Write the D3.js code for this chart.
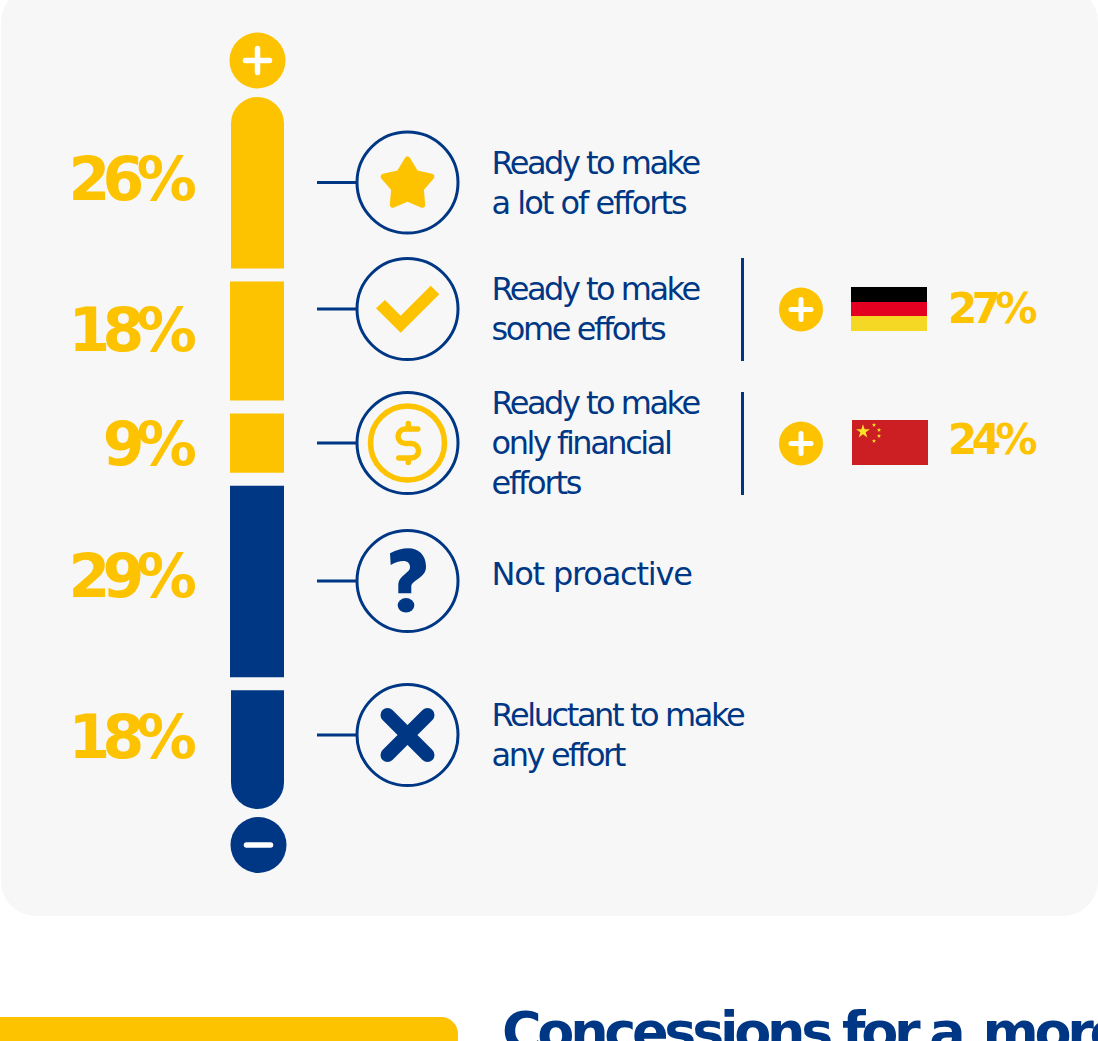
<!DOCTYPE html>
<html>
<head>
<meta charset="utf-8">
<script src="https://cdn.jsdelivr.net/npm/d3@7"></script>
<style>
  html, body { margin: 0; padding: 0; background: #fff; overflow: hidden; }
  svg { display: block; font-family: "DejaVu Sans", sans-serif; }
</style>
</head>
<body>
<svg id="chart" width="1098" height="1041"></svg>
<script>
// Survey shares, top of the gauge to the bottom
const categories = ["lot", "some", "financial", "passive", "reluctant"];
const shares = [26, 18, 9, 29, 18];
const shareLabels = ["26%", "18%", "9%", "29%", "18%"];
const captions = [
  ["Ready to make", "a lot of efforts"],
  ["Ready to make", "some efforts"],
  ["Ready to make", "only financial", "efforts"],
  ["Not proactive"],
  ["Reluctant to make", "any effort"]
];
const countries = ["Germany", "China"];
const countryShares = [27, 24];

const GOLD = "#fdc300", NAVY = "#003785", PANEL = "#f7f7f7";

const svg = d3.select("#chart");

// Background panel and the start of the next section
svg.append("rect").attr("x", 1).attr("y", -13).attr("width", 1097).attr("height", 929).attr("rx", 35).attr("fill", PANEL);
svg.append("rect").attr("x", -40).attr("y", 1017).attr("width", 498).attr("height", 80).attr("rx", 17).attr("fill", GOLD);
const heading = svg.append("text").attr("x", 502).attr("y", 1050).attr("font-size", 54).attr("font-weight", 700)
  .attr("letter-spacing", -4.3).attr("word-spacing", -1.5).attr("fill", NAVY);
heading.append("tspan").text("Concessions for a ");
heading.append("tspan").attr("dx", 8).text("more");

// Gauge: each segment is as tall as its share, with a fixed gap between segments
const GAP = 13, TOP = 97;
const height = d3.scaleLinear().domain([0, 100]).range([0, 660]);
let offset = TOP;
const segments = shares.map((v, i) => {
  const s = { i, v, y0: offset, y1: offset + height(v) };
  offset = s.y1 + GAP;
  return s;
});
const xR = 284;
const segmentPath = s => {
  const first = s.i === 0, last = s.i === shares.length - 1;
  const xL = first || last ? 231 : 230;
  const rad = (xR - xL) / 2;
  const p = d3.path();
  if (first) {
    p.moveTo(xL, s.y1);
    p.lineTo(xL, s.y0 + rad);
    p.arc((xL + xR) / 2, s.y0 + rad, rad, Math.PI, 2 * Math.PI);
    p.lineTo(xR, s.y1);
  } else if (last) {
    p.moveTo(xL, s.y0);
    p.lineTo(xL, s.y1 - rad);
    p.arc((xL + xR) / 2, s.y1 - rad, rad, Math.PI, 0, true);
    p.lineTo(xR, s.y0);
  } else {
    p.rect(xL, s.y0, xR - xL, s.y1 - s.y0);
  }
  p.closePath();
  return p.toString();
};
svg.append("g").selectAll("path").data(segments).join("path")
  .attr("d", segmentPath)
  .attr("fill", d => d.i < 3 ? GOLD : NAVY);

// Percentages to the left of the gauge
const labelBaselines = [200, 351, 465, 597, 758];
svg.append("g").selectAll("text").data(shareLabels).join("text")
  .attr("x", 189.5).attr("y", (d, i) => labelBaselines[i])
  .attr("text-anchor", "end").attr("font-size", 60).attr("font-weight", 700)
  .attr("letter-spacing", -7.5).attr("fill", GOLD).text(d => d);

// Plus and minus badges
function badge(cx, cy, r, fill, arm, width, vertical) {
  const g = svg.append("g").attr("transform", `translate(${cx},${cy})`);
  g.append("circle").attr("r", r).attr("fill", fill);
  const stroke = (x1, y1, x2, y2) => g.append("line").attr("x1", x1).attr("y1", y1).attr("x2", x2).attr("y2", y2)
    .attr("stroke", "#fff").attr("stroke-width", width).attr("stroke-linecap", "round");
  stroke(-arm, 0, arm, 0);
  if (vertical) stroke(0, -arm, 0, arm);
}
badge(257.5, 60.5, 28, GOLD, 12, 5.5, true);
badge(258.5, 845, 28, NAVY, 12, 5.5, false);

// Icon row: connector, ring, glyph and caption
const rowY = [182.5, 309, 443, 581, 735];
const captionFirstBaseline = [174, 300, 414, 585, 726];
const rows = svg.append("g").selectAll("g").data(categories).join("g")
  .attr("transform", (d, i) => `translate(407.5,${rowY[i]})`);
rows.append("line").attr("x1", -90.5).attr("x2", -50).attr("stroke", NAVY).attr("stroke-width", 3);
rows.append("circle").attr("r", 50.5).attr("fill", "none").attr("stroke", NAVY).attr("stroke-width", 3);

const starRadii = [25, 14, 25, 14, 25, 14, 25, 14, 25, 14];
const starLine = d3.lineRadial()
  .angle((d, i) => i * Math.PI / 5)
  .radius(d => d)
  .curve(d3.curveLinearClosed);

const glyph = {
  lot: g => g.append("path")
    .attr("d", starLine(starRadii))
    .attr("transform", "translate(0,2)")
    .attr("fill", GOLD).attr("stroke", GOLD).attr("stroke-width", 6).attr("stroke-linejoin", "round"),
  some: g => g.append("path")
    .attr("d", "M-31.5,-0.7 L-22.5,-9 L-6.8,6.7 L23.2,-23.3 L31.8,-14.7 L-6.8,23.7 Z")
    .attr("fill", GOLD),
  financial: g => {
    g.append("circle").attr("r", 37).attr("fill", "none").attr("stroke", GOLD).attr("stroke-width", 5.5);
    g.append("path")
      .attr("transform", "translate(0.8,0)")
      .attr("d", "M9.5,-14 H-3 A7,7 0 0 0 -3,0.5 H3 A7,7 0 0 1 3,15 H-9.5 M0,-19.5 V-14 M0,15 V19.5")
      .attr("fill", "none").attr("stroke", GOLD).attr("stroke-width", 5.5).attr("stroke-linecap", "round");
  },
  passive: g => {
    g.append("path")
      .attr("d", "M-17.5,-27.7 C-11,-31 -5,-32.7 0.8,-32.7 C11,-32.7 18.5,-26 18.5,-14.3 C18.5,-8 15,-5.5 9,-1 C5,2 3.8,3 3.8,6 V12.3 H-9.2 V4 C-9.2,-1 -6,-4 -2.5,-7 C1,-10 2.5,-11 2.5,-14 C2.5,-18 -0.5,-20 -4,-20 C-8,-20 -12.5,-18.5 -16.8,-16 Z")
      .attr("fill", NAVY);
    g.append("ellipse").attr("cx", -1.5).attr("cy", 24.3).attr("rx", 8.3).attr("ry", 7.3).attr("fill", NAVY);
  },
  reluctant: g => g.append("path")
    .attr("d", "M-20,-20 L20,20 M20,-20 L-20,20")
    .attr("stroke", NAVY).attr("stroke-width", 14).attr("stroke-linecap", "round")
};
rows.each(function (d) { glyph[d](d3.select(this)); });

const captionTracking = [[-2.5, -2], [-2.5, -2.4], [-2.5, -2.45, -2.2], [-1.2], [-2.4, -2.4]];
captions.forEach((lines, i) => {
  const t = svg.append("text").attr("y", captionFirstBaseline[i])
    .attr("font-size", 32).attr("fill", NAVY);
  lines.forEach((line, j) => t.append("tspan").attr("x", 491.5).attr("dy", j ? 40 : 0)
    .attr("letter-spacing", captionTracking[i][j]).text(line));
});

// Country call-outs beside the second and third rows
const calloutY = [309.5, 443.5];
const ruleTop = [258, 392];
countries.forEach((c, i) => {
  svg.append("rect").attr("x", 741).attr("y", ruleTop[i]).attr("width", 3).attr("height", 103).attr("fill", NAVY);
  badge(801, calloutY[i], 22, GOLD, 10, 5, true);
  svg.append("text").attr("x", 948).attr("y", [323, 454][i])
    .attr("font-size", 42).attr("font-weight", 700).attr("letter-spacing", -5.5)
    .attr("fill", GOLD).text(countryShares[i] + "%");
});

// Germany
const de = svg.append("g").attr("transform", "translate(851,287)");
["#000000", "#e30020", "#f5d823"].forEach((col, i) => {
  de.append("rect").attr("y", [0, 15, 29][i]).attr("width", 76).attr("height", [15, 14, 15][i]).attr("fill", col);
});

// China
const cn = svg.append("g").attr("transform", "translate(852,420)");
cn.append("rect").attr("width", 76).attr("height", 45).attr("fill", "#cc1f24");
const star = (x, y, area) => cn.append("path").attr("d", d3.symbol(d3.symbolStar, area)())
  .attr("transform", `translate(${x},${y})`).attr("fill", "#fce22a");
star(11, 11.5, 60);
star(22, 5, 6); star(27, 10, 6); star(27, 16, 6); star(22, 21, 6);
</script>
</body>
</html>
